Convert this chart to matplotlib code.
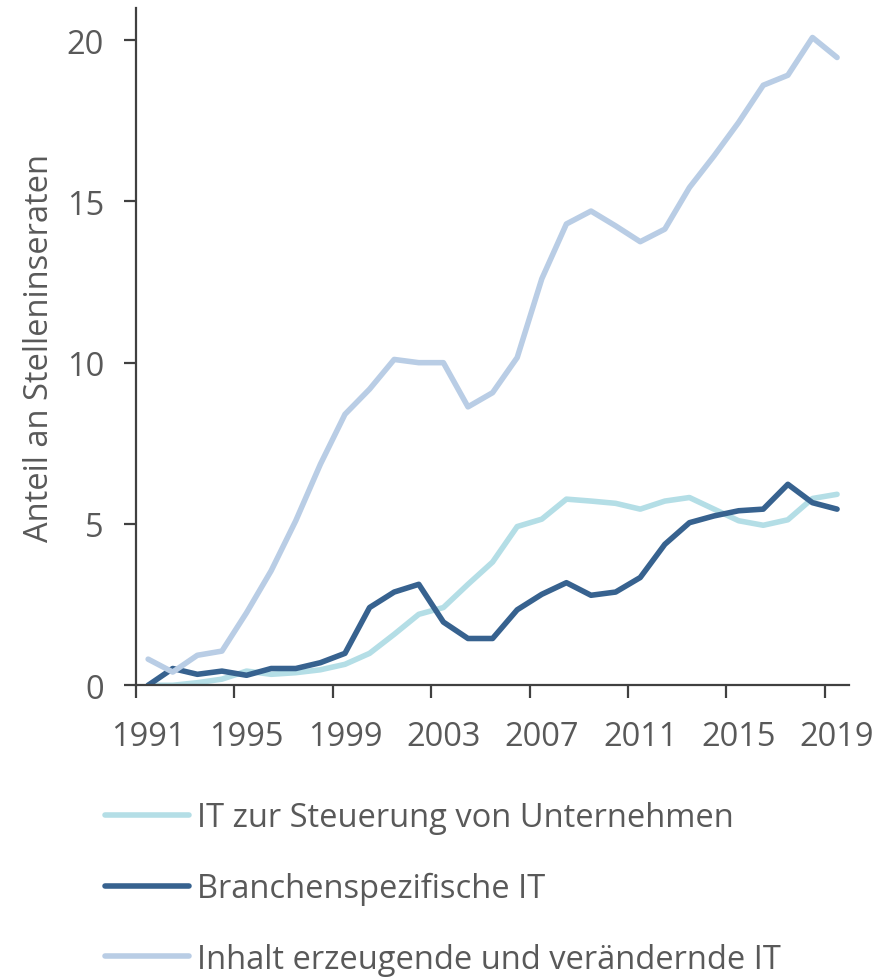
import matplotlib
matplotlib.use("Agg")
import matplotlib.pyplot as plt
from matplotlib.ticker import FixedLocator, NullFormatter

plt.rcParams['font.family'] = ['Open Sans', 'DejaVu Sans']

# Jahre und Anteile (in %) an Stelleninseraten
years = list(range(1991, 2020))

steuerung = [0.0, 0.0, 0.08, 0.19, 0.44, 0.34, 0.39, 0.48, 0.65, 0.99,
             1.58, 2.2, 2.41, 3.13, 3.82, 4.92, 5.15, 5.77, 5.71, 5.64,
             5.46, 5.71, 5.82, 5.46, 5.1, 4.96, 5.13, 5.79, 5.92]

branchen = [0.0, 0.52, 0.34, 0.44, 0.31, 0.52, 0.52, 0.70, 0.99, 2.41,
            2.89, 3.13, 1.96, 1.45, 1.45, 2.34, 2.82, 3.18, 2.79, 2.89,
            3.34, 4.37, 5.04, 5.25, 5.41, 5.46, 6.23, 5.66, 5.46]

inhalt = [0.81, 0.41, 0.93, 1.06, 2.25, 3.55, 5.1, 6.85, 8.4, 9.18,
          10.1, 10.0, 10.0, 8.63, 9.07, 10.16, 12.6, 14.3, 14.7, 14.24,
          13.75, 14.14, 15.43, 16.41, 17.45, 18.6, 18.91, 20.08, 19.46]

labels = ["IT zur Steuerung von Unternehmen",
          "Branchenspezifische IT",
          "Inhalt erzeugende und verändernde IT"]
colors = ["#B4DEE6", "#37628F", "#B9CDE5"]

label_years = years[::4]

text_col = "#595959"
axis_col = "#404040"
fs = 23.5

fig = plt.figure(figsize=(8.82, 9.79), dpi=100)
ax = fig.add_axes([0.154, 0.299, 0.809, 0.692])

for vals, lab, col in zip([steuerung, branchen, inhalt], labels, colors):
    ax.plot(years, vals, color=col, lw=4.0, label=lab, solid_capstyle='round')

ax.set_xlim(years[0] - 0.5, years[-1] + 0.5)
ax.set_ylim(0, 21)
ax.set_yticks([0, 5, 10, 15, 20])

# Kategorienachse: Striche zwischen den Jahren, Beschriftung in der Mitte
ax.xaxis.set_major_locator(FixedLocator([y - 0.5 for y in label_years]))
ax.xaxis.set_major_formatter(NullFormatter())
ax.xaxis.set_minor_locator(FixedLocator(label_years))
ax.set_xticklabels([str(y) for y in label_years], minor=True)

for s in ['top', 'right']:
    ax.spines[s].set_visible(False)
for s in ['left', 'bottom']:
    ax.spines[s].set_color(axis_col)
    ax.spines[s].set_linewidth(1.6)

ax.tick_params(axis='x', which='major', length=9, width=1.6, color=axis_col, direction='out')
ax.tick_params(axis='x', which='minor', length=0, pad=25, labelsize=fs, labelcolor=text_col)
ax.tick_params(axis='y', length=9, width=1.6, color=axis_col, pad=14,
               labelsize=fs, labelcolor=text_col)

ax.set_ylabel("Anteil an Stelleninseraten", fontsize=fs, color=text_col, labelpad=8)

fig.legend(loc='upper left', bbox_to_anchor=(0.1, 0.197), frameon=False,
           fontsize=fs, labelcolor=text_col, handlelength=2.58,
           handletextpad=0.25, labelspacing=1.15, borderpad=0)

fig.savefig("out.png", dpi=100)
